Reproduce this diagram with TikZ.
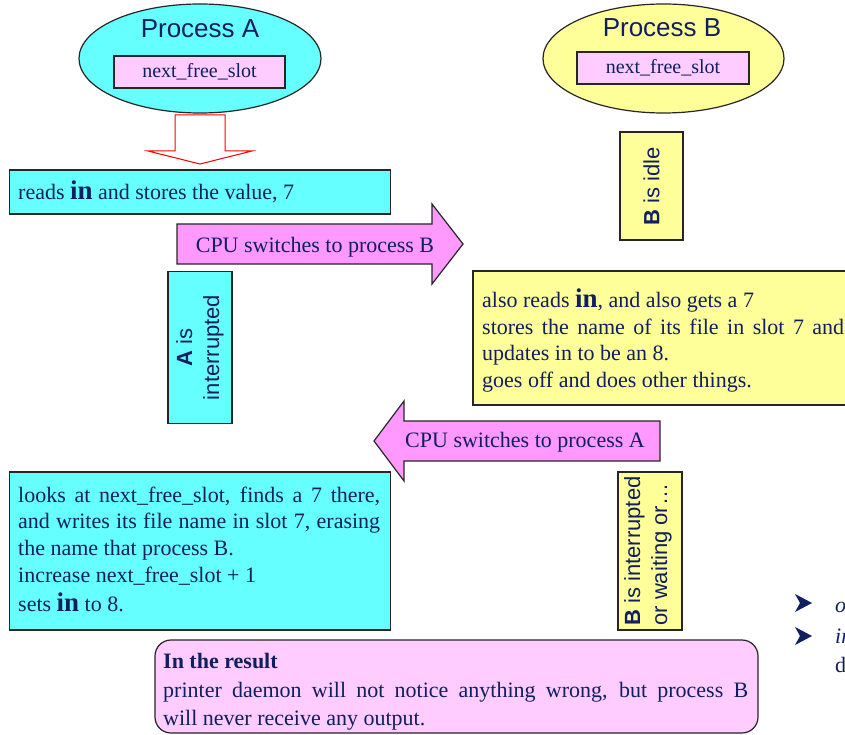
\documentclass[tikz,border=0pt]{standalone}
\usepackage{fontspec}
\setmainfont{Liberation Serif}
\setsansfont{Liberation Sans}
\usetikzlibrary{shapes.geometric}
\definecolor{navy}{HTML}{0F1F5F}
\definecolor{cyanf}{HTML}{66FFFF}
\definecolor{yelf}{HTML}{FFFF99}
\definecolor{pinkf}{HTML}{FFCCFF}
\definecolor{magf}{HTML}{FF99FF}
\newcommand{\bigin}{\textbf{\fontsize{27}{27}\selectfont in}}
\begin{document}
\begin{tikzpicture}[x=1pt,y=-1pt,
  box/.style={draw=black!85, line width=1.2pt, inner sep=0pt},
  txt/.style={text=navy, font=\fontsize{22}{26.5}\selectfont, inner sep=0pt, anchor=base west},
  ctxt/.style={text=navy, font=\fontsize{22}{26.5}\selectfont, inner sep=0pt, anchor=base},
  rot/.style={text=navy, font=\sffamily\fontsize{22}{27}\selectfont, rotate=90, inner sep=0pt},
  title/.style={text=navy, font=\sffamily\fontsize{26}{30}\selectfont, inner sep=0pt, anchor=base},
  slot/.style={box, fill=pinkf, text=navy, font=\fontsize{20}{24}\selectfont},
  bigarrow/.style={draw=black!85, line width=1.2pt, fill=magf}
]
\useasboundingbox (0,0) rectangle (845,735);
\clip (0,0) rectangle (845,735);
\fill[white] (0,0) rectangle (845,735);

% Process A
\node[box, ellipse, fill=cyanf, minimum width=242pt, minimum height=109pt] (ellA) at (200,58.5) {};
\node[title] (titA) at (200,38) {Process A};
\node[slot, minimum width=171pt, minimum height=32pt] (slotA) at (199.5,72) {next\_free\_slot};

% Process B
\node[box, ellipse, fill=yelf, minimum width=241pt, minimum height=109pt] (ellB) at (663.5,58.5) {};
\node[title] (titB) at (662,37) {Process B};
\node[slot, minimum width=172pt, minimum height=32pt] (slotB) at (663,68) {next\_free\_slot};

% red down arrow
\draw[red, line width=1pt, fill=white] (175,115) -- (225,115) -- (225,151) -- (252,151)
  -- (200,164) -- (148,151) -- (175,151) -- cycle;

% reads in box
\node[box, fill=cyanf, minimum width=381pt, minimum height=44pt] (readbox) at (200,192) {};
\node[txt] (readtxt) at (18,200) {reads \bigin{} and stores the value, 7};

% CPU switches to B
\draw[bigarrow] (177,224) -- (432,224) -- (432,204) -- (463,244) -- (432,284) -- (432,264) -- (177,264) -- cycle;
\node[ctxt] (cpuB) at (315,252) {CPU switches to process B};

% B is idle
\node[box, fill=yelf, minimum width=63pt, minimum height=108pt] (idlebox) at (651.5,186) {};
\node[rot] (idletxt) at (651.5,186) {\textbf{B} is idle};

% A is interrupted
\node[box, fill=cyanf, minimum width=64pt, minimum height=152pt] (aintbox) at (200,347.5) {};
\node[rot, align=center] (ainttxt) at (200,347.5) {\textbf{A} is\\interrupted};

% yellow box
\node[box, fill=yelf, minimum width=427pt, minimum height=134pt] (ybox) at (686.5,338) {};
\node[txt] (y1) at (482,307) {also reads \bigin, and also gets a 7};
\node[txt] (y2) at (482,334) {\makebox[362pt][s]{stores the name of its file in slot 7 and}};
\node[txt] (y3) at (482,360.5) {updates in to be an 8.};
\node[txt] (y4) at (482,387) {goes off and does other things.};

% CPU switches to A
\draw[bigarrow] (660,421) -- (404,421) -- (404,401) -- (374,441) -- (404,481) -- (404,461) -- (660,461) -- cycle;
\node[ctxt] (cpuA) at (525,447) {CPU switches to process A};

% bottom cyan box
\node[box, fill=cyanf, minimum width=381pt, minimum height=158pt] (cbox) at (200,551) {};
\node[txt] (c1) at (18,502) {\makebox[362pt][s]{looks at next\_free\_slot, finds a 7 there,}};
\node[txt] (c2) at (18,528.5) {\makebox[362pt][s]{and writes its file name in slot 7, erasing}};
\node[txt] (c3) at (18,555) {the name that process B.};
\node[txt] (c4) at (18,582) {increase next\_free\_slot + 1};
\node[txt] (c5) at (18,611) {sets \bigin{} to 8.};

% B is interrupted
\node[box, fill=yelf, minimum width=64pt, minimum height=158pt] (bintbox) at (650,551) {};
\node[rot, align=left] (binttxt) at (648,551) {\textbf{B} is interrupted\\or waiting or…};

% result box
\node[box, fill=pinkf, rounded corners=16pt, minimum width=603pt, minimum height=93pt] (resbox) at (456.5,686.5) {};
\node[txt] (r1) at (163,668) {\textbf{In the result}};
\node[txt] (r2) at (163,697) {\makebox[585pt][s]{printer daemon will not notice anything wrong, but process B}};
\node[txt] (r3) at (163,725) {will never receive any output.};

% bullets at bottom right (cut off)
\fill[navy] (795,594) -- (812,603) -- (795,612) -- (800,603) -- cycle;
\fill[navy] (795,627) -- (812,636) -- (795,645) -- (800,636) -- cycle;
\node[txt] (b1) at (835,612) {\textit{o}};
\node[txt] (b2) at (835,643) {\textit{in}};
\node[txt] (b3) at (835,672) {d};
\end{tikzpicture}
\end{document}
